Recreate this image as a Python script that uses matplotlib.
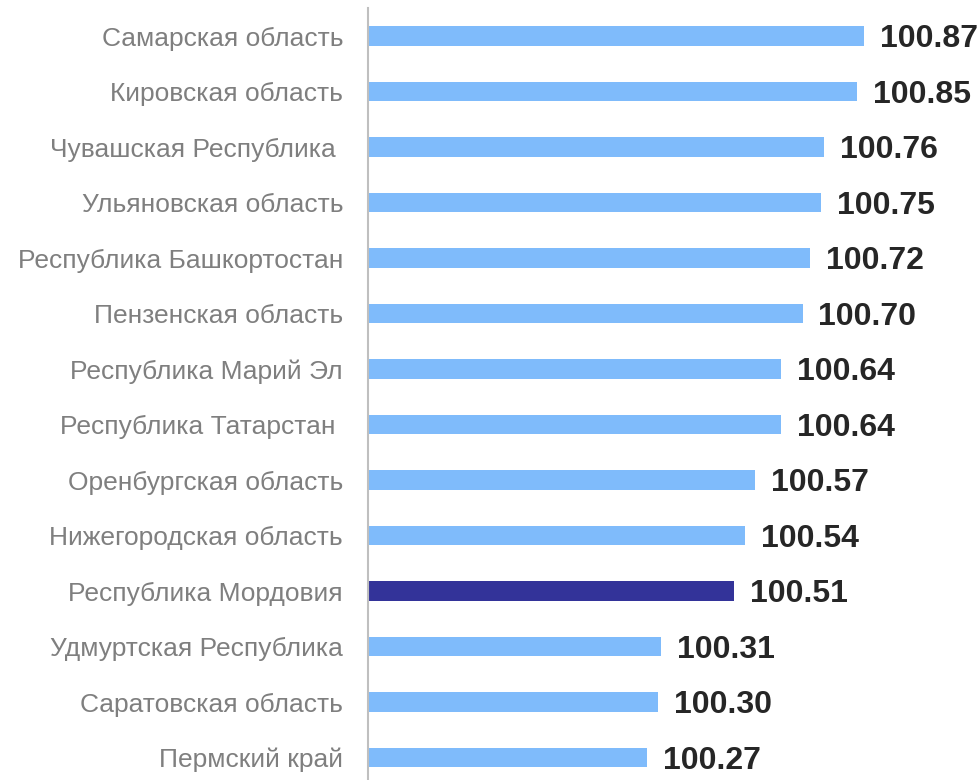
import matplotlib.pyplot as plt

# Данные
regions = [
    "Самарская область",
    "Кировская область",
    "Чувашская Республика ",
    "Ульяновская область",
    "Республика Башкортостан",
    "Пензенская область",
    "Республика Марий Эл",
    "Республика Татарстан ",
    "Оренбургская область",
    "Нижегородская область",
    "Республика Мордовия",
    "Удмуртская Республика",
    "Саратовская область",
    "Пермский край",
]
values = [100.87, 100.85, 100.76, 100.75, 100.72, 100.70, 100.64,
          100.64, 100.57, 100.54, 100.51, 100.31, 100.30, 100.27]
highlight = "Республика Мордовия"

plt.rcParams['font.family'] = ['Liberation Sans', 'DejaVu Sans']

base = 99.5
fig = plt.figure(figsize=(9.8, 7.8), dpi=100)
ax = fig.add_axes([368 / 980, 0, 1 - 368 / 980, 1])

colors = ["#333399" if r == highlight else "#7fbbfb" for r in regions]
pos = list(range(len(regions)))
ax.barh(pos, [v - base for v in values], left=base, height=0.35, color=colors)

# Подписи значений (чуть ниже центра, как в оригинале)
for p, v in zip(pos, values):
    ax.text(v + 0.044, p + 0.06, f"{v:.2f}", va="center", ha="left",
            fontsize=23, fontweight="bold", color="#262626")

ax.set_xlim(base, 101.19)
ax.set_ylim(13.405, -0.649)
ax.set_yticks(pos)
ax.set_yticklabels(regions, fontsize=19, color="#7f7f7f")
ax.tick_params(axis="y", length=0, pad=18)
ax.set_xticks([])

for s in ["top", "right", "bottom"]:
    ax.spines[s].set_visible(False)
ax.spines["left"].set_color("#bfbfbf")
ax.spines["left"].set_linewidth(1.5)
ax.spines["left"].set_bounds(-0.505, 13.405)

fig.savefig("out.png", dpi=100)
